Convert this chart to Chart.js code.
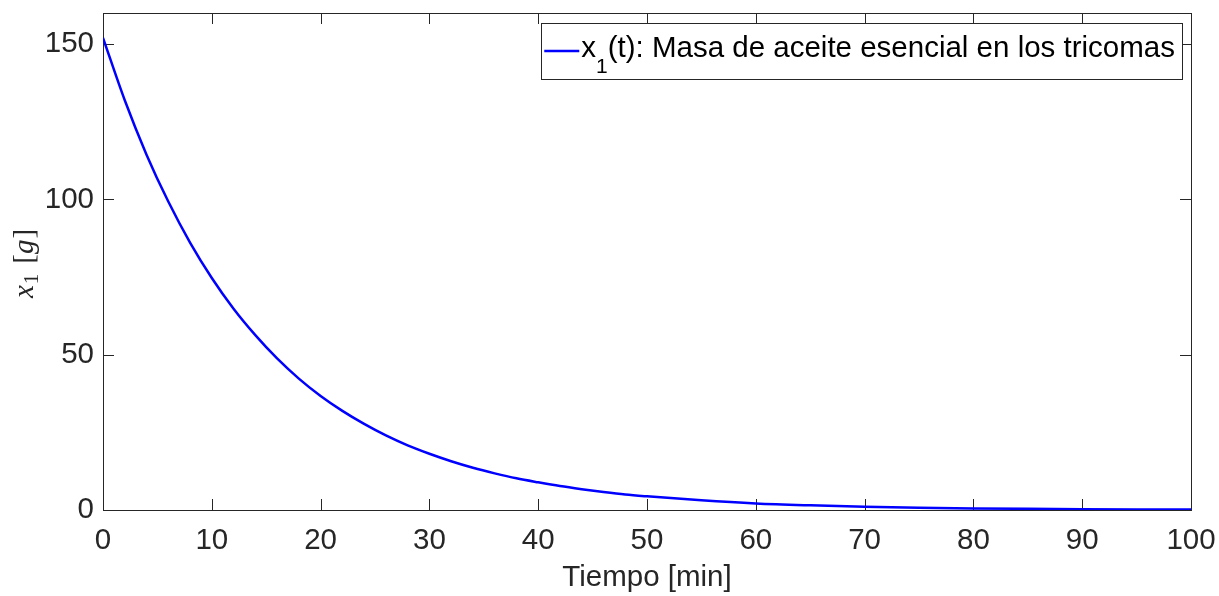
<!DOCTYPE html>
<html>
<head>
<meta charset="utf-8">
<script src="https://cdn.jsdelivr.net/npm/chart.js@4.4.1/dist/chart.umd.min.js"></script>
<style>
  html, body { margin: 0; padding: 0; background: #ffffff; }
  #wrap { width: 1219px; height: 596px; }
</style>
</head>
<body>
<div id="wrap"><canvas id="c" width="1219" height="596"></canvas></div>
<script>
// ---- data ----
const timeMin = [0, 2, 4, 6, 8, 10, 12, 14, 16, 18, 20, 22, 24, 26, 28, 30, 32, 34, 36, 38, 40, 42, 44, 46, 48, 50, 55, 60, 65, 70, 75, 80, 85, 90, 95, 100];
const x1Mass = [152, 131.9, 114.4, 99.3, 86.1, 74.7, 64.8, 56.3, 48.8, 42.3, 36.7, 31.9, 27.7, 24.0, 20.8, 18.1, 15.7, 13.6, 11.8, 10.2, 8.9, 7.7, 6.7, 5.8, 5.0, 4.4, 3.1, 2.1, 1.5, 1.06, 0.74, 0.52, 0.37, 0.26, 0.18, 0.13];
const xTicks = [0, 10, 20, 30, 40, 50, 60, 70, 80, 90, 100];
const yTicks = [0, 50, 100, 150];
const seriesLabel = "Masa de aceite esencial en los tricomas";
const xTitle = "Tiempo [min]";

const AX = '#262626';
const FONT = '"Liberation Sans", Arial, Helvetica, sans-serif';
const SERIF = '"Liberation Serif", "Times New Roman", serif';
const FS = 29.5;

const points = timeMin.map((t, i) => ({ x: t, y: x1Mass[i] }));

const framePlugin = {
  id: 'frame',
  beforeDatasetsDraw(chart) {
    const { ctx, chartArea: a, scales } = chart;
    ctx.save();
    ctx.strokeStyle = AX;
    ctx.lineWidth = 1;
    ctx.strokeRect(Math.round(a.left) + 0.5, Math.round(a.top) + 0.5,
                   Math.round(a.right - a.left), Math.round(a.bottom - a.top));
    const TL = 11;
    ctx.beginPath();
    scales.x.ticks.forEach(tk => {
      const px = Math.round(scales.x.getPixelForValue(tk.value)) + 0.5;
      ctx.moveTo(px, a.bottom); ctx.lineTo(px, a.bottom - TL);
      ctx.moveTo(px, a.top); ctx.lineTo(px, a.top + TL);
    });
    scales.y.ticks.forEach(tk => {
      const py = Math.round(scales.y.getPixelForValue(tk.value)) + 0.5;
      ctx.moveTo(a.left, py); ctx.lineTo(a.left + TL, py);
      ctx.moveTo(a.right, py); ctx.lineTo(a.right - TL, py);
    });
    ctx.stroke();
    ctx.restore();
  },
  afterDraw(chart) {
    const { ctx, chartArea: a } = chart;
    ctx.save();
    // y-axis label: x_1 [g] (LaTeX style), rotated
    ctx.translate(33, 298);
    ctx.rotate(-Math.PI / 2);
    ctx.fillStyle = AX;
    ctx.textBaseline = 'alphabetic';
    ctx.textAlign = 'left';
    let cx = 0;
    ctx.font = 'italic 29px ' + SERIF;
    ctx.fillText('x', cx, 0); cx += ctx.measureText('x').width + 1;
    ctx.font = '21px ' + SERIF;
    ctx.fillText('1', cx, 5); cx += ctx.measureText('1').width + 10;
    ctx.font = '29px ' + SERIF;
    ctx.fillText('[', cx, 0); cx += ctx.measureText('[').width;
    ctx.font = 'italic 29px ' + SERIF;
    ctx.fillText('g', cx, 0); cx += ctx.measureText('g').width + 1;
    ctx.font = '29px ' + SERIF;
    ctx.fillText(']', cx, 0);
    ctx.restore();

    // legend box inside the top-right corner
    ctx.save();
    ctx.font = FS + 'px ' + FONT;
    const wX = ctx.measureText('x').width;
    ctx.font = '21px ' + FONT;
    const w1 = ctx.measureText('1').width;
    ctx.font = FS + 'px ' + FONT;
    const rest = '(t): ' + chart.data.datasets[0].label;
    const wR = ctx.measureText(rest).width;
    const lineLen = 35, gap = 2, padL = 3, padR = 7;
    const boxW = padL + lineLen + gap + wX + w1 + wR + padR;
    const boxR = Math.round(a.right) - 9;
    const boxL = boxR - boxW;
    const boxT = Math.round(a.top) + 10, boxH = 56;
    ctx.fillStyle = '#ffffff';
    ctx.fillRect(boxL, boxT, boxW, boxH);
    ctx.strokeStyle = AX; ctx.lineWidth = 1;
    ctx.strokeRect(Math.round(boxL) + 0.5, boxT + 0.5, Math.round(boxW), boxH);
    const midY = boxT + 28;
    ctx.strokeStyle = '#0000ff'; ctx.lineWidth = 2.5;
    ctx.beginPath(); ctx.moveTo(boxL + padL, midY); ctx.lineTo(boxL + padL + lineLen, midY); ctx.stroke();
    ctx.fillStyle = '#000000';
    ctx.textBaseline = 'alphabetic';
    let tx = boxL + padL + lineLen + gap;
    const base = boxT + 34;
    ctx.fillText('x', tx, base); tx += wX;
    ctx.font = '21px ' + FONT;
    ctx.fillText('1', tx, base + 16); tx += w1;
    ctx.font = FS + 'px ' + FONT;
    ctx.fillText(rest, tx, base);
    ctx.restore();
  }
};

new Chart(document.getElementById('c'), {
  type: 'line',
  data: {
    datasets: [{
      label: seriesLabel,
      data: points,
      borderColor: '#0000ff',
      borderWidth: 2.5,
      pointRadius: 0,
      fill: false,
      cubicInterpolationMode: 'monotone'
    }]
  },
  options: {
    responsive: false,
    animation: false,
    layout: { padding: { top: 13, right: 28, left: 0, bottom: 0 } },
    plugins: { legend: { display: false }, tooltip: { enabled: false } },
    scales: {
      x: {
        type: 'linear', min: 0, max: 100,
        afterBuildTicks(s) { s.ticks = xTicks.map(v => ({ value: v })); },
        afterFit(s) { s.height = 86; s.paddingLeft = 0; s.paddingRight = 0; },
        grid: { display: false, drawTicks: false },
        border: { display: false },
        ticks: { font: { family: FONT, size: FS }, color: AX, padding: 13, maxRotation: 0, autoSkip: false },
        title: { display: true, text: xTitle, font: { family: FONT, size: FS }, color: AX, padding: { top: 0, bottom: 0 } }
      },
      y: {
        type: 'linear', min: 0, max: 160,
        afterBuildTicks(s) { s.ticks = yTicks.map(v => ({ value: v })); },
        afterFit(s) { s.width = 103; s.paddingTop = 0; s.paddingBottom = 0; },
        grid: { display: false, drawTicks: false },
        border: { display: false },
        ticks: { font: { family: FONT, size: FS }, color: AX, padding: 9, autoSkip: false }
      }
    }
  },
  plugins: [framePlugin]
});
</script>
</body>
</html>
